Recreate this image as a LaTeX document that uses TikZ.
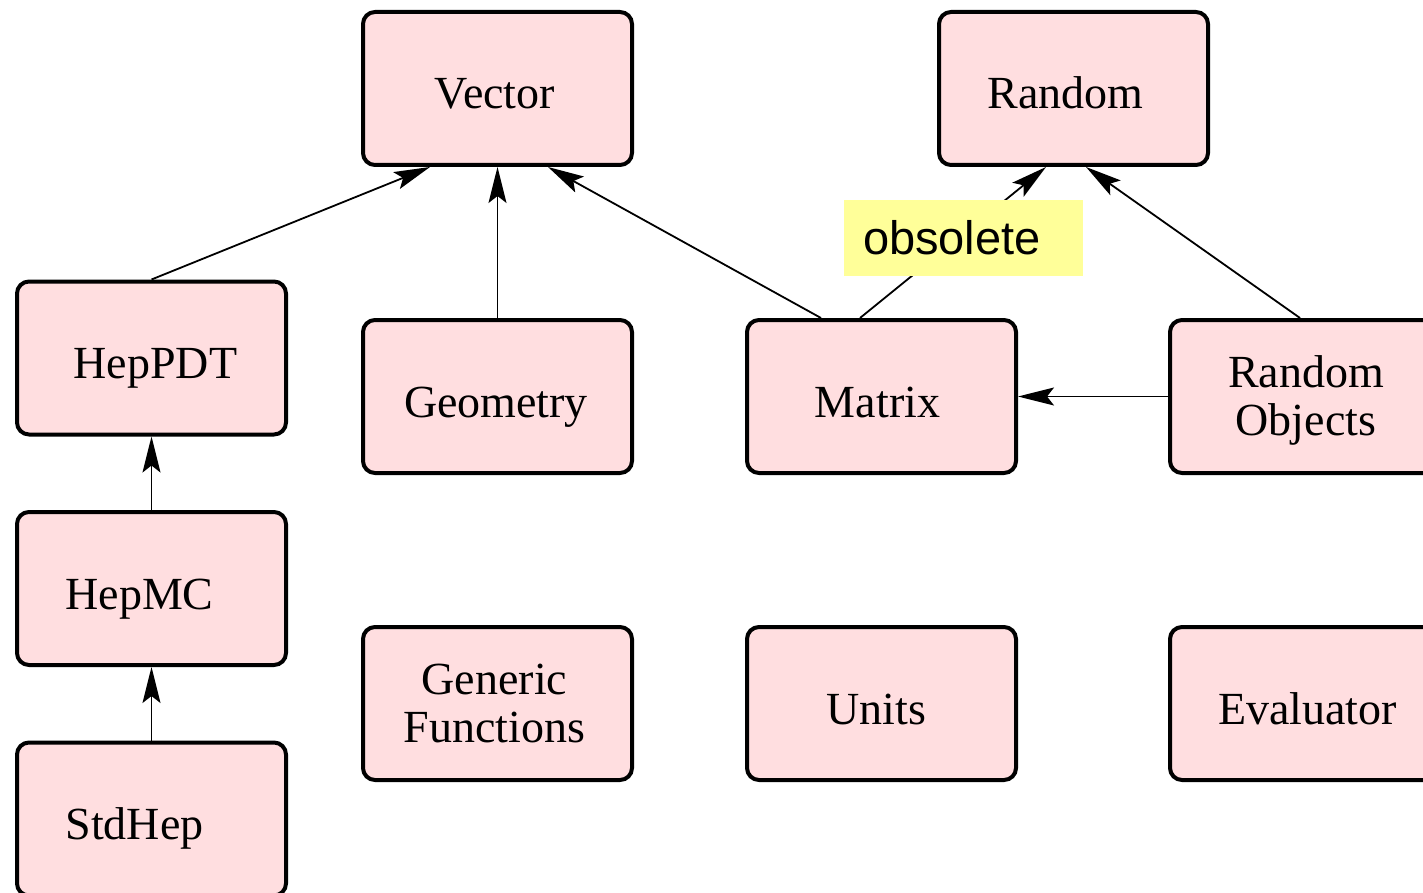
\documentclass[tikz,border=0pt]{standalone}
\usepackage{fontspec}
\setmainfont{Liberation Serif}
\newfontfamily\sansf{Liberation Sans}
\usetikzlibrary{arrows.meta,calc}
\definecolor{boxpink}{RGB}{255,222,224}
\definecolor{noteyellow}{RGB}{255,255,153}
\newcommand{\twolines}[2]{\raisebox{-12pt}[0pt][0pt]{\begin{tabular}{@{}c@{}}#1\\#2\end{tabular}}}
\begin{document}
\begin{tikzpicture}[x=1pt,y=-1pt,
  pkgbase/.style={draw=black,line width=4pt,rounded corners=12pt,fill=boxpink,
    minimum width=269pt,minimum height=153pt,inner sep=0pt,align=center,
    font=\fontsize{46}{48}\selectfont},
  pkg/.style={pkgbase,text height=41pt,text depth=0pt},
  pkgtwo/.style={pkgbase},
  arr/.style={line width=1.8pt,-{Stealth[length=36pt,width=18pt,inset=7pt]}},
  note/.style={fill=noteyellow,draw=none,minimum width=239pt,minimum height=76pt,
    inner xsep=19pt,text width=201pt,align=left,font=\sansf\fontsize{47}{50}\selectfont}
  ]
\useasboundingbox (0,0) rectangle (1423,893);
\clip (0,0) rectangle (1423,893);
% boxes
\node[pkg] (vector) at (497.5,88.5) {\hspace*{-5pt}Vector};
\node[pkg] (random) at (1073.5,88.5) {\hspace*{-16pt}Random};
\node[pkg] (hepPDT) at (151.5,358) {\hspace*{8pt}HepPDT};
\node[pkg] (geometry) at (497.5,396.5) {\hspace*{-3pt}Geometry};
\node[pkg] (matrix) at (881.5,396.5) {\hspace*{-8pt}Matrix};
\node[pkgtwo] (randobj) at (1304.5,396.5) {\hspace*{3pt}\twolines{Random}{Objects}};
\node[pkg] (hepMC) at (151.5,588.5) {\hspace*{-24pt}HepMC};
\node[pkgtwo] (generic) at (497.5,703.5) {\hspace*{-6pt}\twolines{Generic}{Functions}};
\node[pkg] (units) at (881.5,703.5) {\hspace*{-10pt}Units};
\node[pkg] (evaluator) at (1304.5,703.5) {\hspace*{6pt}Evaluator};
\node[pkg] (stdhep) at (151.5,819) {\hspace*{-34pt}StdHep};
% connectors
\draw[arr] (hepPDT.north) -- ([xshift=69pt]vector.south west);
\draw[arr] (geometry.north) -- (vector.south);
\draw[arr] ([xshift=76pt]matrix.north west) -- ([xshift=187pt]vector.south west);
\draw[arr] ([xshift=115pt]matrix.north west) -- ([xshift=109pt]random.south west);
\draw[arr] ([xshift=132pt]randobj.north west) -- ([xshift=149pt]random.south west);
\draw[arr] (randobj.west) -- (matrix.east);
\draw[arr] (hepMC.north) -- (hepPDT.south);
\draw[arr] (stdhep.north) -- (hepMC.south);
% note
\node[note] (obsolete) at (963.5,238) {obsolete};
\end{tikzpicture}
\end{document}
